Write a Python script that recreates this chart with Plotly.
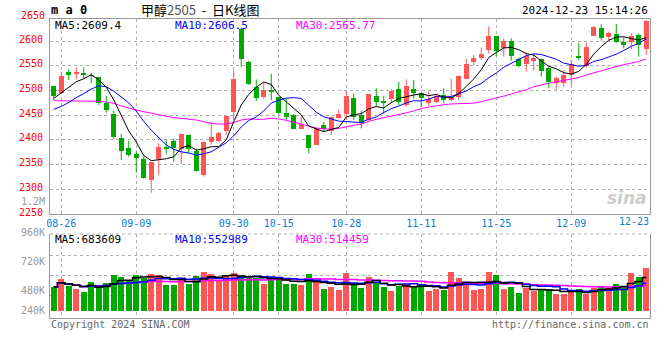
import plotly.graph_objects as go
import pandas as pd

# ---------------- data ----------------
dates = ["08-23",
         "08-26", "08-27", "08-28", "08-29", "08-30",
         "09-02", "09-03", "09-04", "09-05", "09-06",
         "09-09", "09-10", "09-11", "09-12", "09-13",
         "09-18", "09-19", "09-20",
         "09-23", "09-24", "09-25", "09-26", "09-27",
         "09-30",
         "10-08", "10-09", "10-10", "10-11",
         "10-14", "10-15", "10-16", "10-17", "10-18",
         "10-21", "10-22", "10-23", "10-24", "10-25",
         "10-28", "10-29", "10-30", "10-31", "11-01",
         "11-04", "11-05", "11-06", "11-07", "11-08",
         "11-11", "11-12", "11-13", "11-14", "11-15",
         "11-18", "11-19", "11-20", "11-21", "11-22",
         "11-25", "11-26", "11-27", "11-28", "11-29",
         "12-02", "12-03", "12-04", "12-05", "12-06",
         "12-09", "12-10", "12-11", "12-12", "12-13",
         "12-16", "12-17", "12-18", "12-19", "12-20",
         "12-23"]

opens = [2509.4, 2495.9, 2537.8, 2534.4, 2535.7, 2531.7, 2527.0, 2475.6, 2452.7, 2404.0,
         2383.7, 2371.6, 2362.1, 2318.9, 2360.8, 2385.0, 2398.6, 2381.0, 2409.4, 2378.3,
         2329.7, 2395.9, 2398.6, 2418.9, 2456.7, 2625.0, 2558.0, 2506.7, 2487.8, 2501.3,
         2486.5, 2455.4, 2450.0, 2423.0, 2410.1, 2390.5, 2430.4, 2418.9, 2444.6, 2452.7,
         2485.1, 2451.3, 2440.5, 2489.2, 2479.7, 2483.8, 2502.7, 2470.9, 2504.0, 2494.6,
         2474.3, 2477.7, 2491.2, 2481.0, 2487.8, 2523.0, 2557.4, 2566.9, 2582.4, 2610.8,
         2587.1, 2600.0, 2564.2, 2554.0, 2560.8, 2564.2, 2546.6, 2514.8, 2516.2, 2531.7,
         2570.9, 2550.7, 2611.4, 2627.7, 2609.4, 2614.8, 2599.3, 2599.3, 2612.8, 2584.4]
highs = [2509.4, 2537.8, 2543.2, 2547.2, 2547.0, 2536.4, 2528.3, 2489.1, 2459.4, 2412.1,
         2398.6, 2377.0, 2366.2, 2356.0, 2393.2, 2400.0, 2402.7, 2413.5, 2410.8, 2383.0,
         2397.3, 2437.8, 2416.2, 2448.6, 2540.5, 2628.3, 2560.8, 2523.0, 2516.2, 2533.8,
         2487.8, 2483.8, 2452.7, 2447.3, 2410.1, 2424.3, 2436.5, 2447.3, 2462.1, 2500.0,
         2493.2, 2459.4, 2493.2, 2504.7, 2489.2, 2502.7, 2518.2, 2523.0, 2521.6, 2495.9,
         2498.0, 2493.2, 2504.7, 2524.3, 2530.4, 2564.2, 2572.3, 2587.1, 2629.7, 2610.8,
         2606.0, 2606.0, 2566.9, 2577.7, 2573.6, 2565.5, 2548.6, 2528.3, 2541.9, 2562.1,
         2597.3, 2597.3, 2631.0, 2634.4, 2619.6, 2635.1, 2608.0, 2616.2, 2616.2, 2643.0]
lows = [2481.0, 2494.5, 2521.6, 2522.9, 2524.0, 2514.8, 2470.9, 2455.4, 2402.7, 2359.4,
        2366.2, 2333.7, 2321.6, 2293.2, 2329.0, 2371.6, 2356.0, 2351.3, 2372.9, 2336.4,
        2325.6, 2390.5, 2395.9, 2410.8, 2440.5, 2548.6, 2511.5, 2479.0, 2483.8, 2481.0,
        2450.7, 2440.5, 2421.6, 2423.0, 2373.0, 2390.5, 2416.2, 2410.1, 2443.2, 2440.5,
        2440.5, 2423.6, 2439.2, 2467.5, 2452.7, 2474.3, 2470.9, 2467.5, 2483.8, 2466.2,
        2468.9, 2474.3, 2474.3, 2479.0, 2481.0, 2523.0, 2552.0, 2562.1, 2575.6, 2570.2,
        2568.9, 2560.8, 2547.3, 2538.5, 2540.5, 2528.3, 2504.7, 2501.3, 2508.0, 2509.4,
        2562.1, 2547.3, 2611.4, 2601.3, 2602.7, 2597.3, 2585.8, 2583.7, 2568.9, 2572.3]
closes = [2489.1, 2529.7, 2532.4, 2535.7, 2533.7, 2529.7, 2475.6, 2460.8, 2406.7, 2378.3,
          2370.2, 2363.5, 2322.9, 2356.0, 2385.0, 2382.4, 2383.7, 2412.1, 2381.0, 2337.8,
          2395.9, 2405.3, 2413.5, 2448.6, 2522.9, 2564.2, 2513.5, 2485.8, 2501.3, 2497.3,
          2455.4, 2445.9, 2423.0, 2432.4, 2384.4, 2423.0, 2421.6, 2445.9, 2452.7, 2489.2,
          2445.9, 2433.8, 2493.2, 2477.0, 2474.3, 2500.0, 2477.0, 2509.4, 2495.9, 2485.1,
          2482.4, 2489.2, 2481.0, 2487.8, 2530.4, 2554.0, 2565.5, 2574.3, 2610.8, 2581.0,
          2601.3, 2570.9, 2550.7, 2570.9, 2566.9, 2540.5, 2518.2, 2525.0, 2531.7, 2553.3,
          2566.9, 2589.2, 2629.7, 2607.4, 2617.5, 2599.3, 2592.5, 2611.4, 2592.5, 2641.0]
volumes_k = [523, 688, 537, 473, 409, 623, 523, 609, 774, 738,
             667, 774, 710, 796, 774, 552, 552, 710, 580, 760,
             839, 796, 645, 753, 817, 753, 710, 710, 580, 731,
             731, 580, 580, 559, 796, 645, 473, 516, 452, 817,
             602, 502, 731, 624, 516, 430, 538, 581, 538, 581,
             430, 473, 452, 839, 710, 624, 452, 473, 839, 774,
             473, 516, 387, 495, 430, 473, 473, 366, 366, 409,
             473, 366, 495, 538, 495, 581, 538, 817, 731, 925]

# moving-average values visible before enough bars exist in the window
ma5_head = [2484.4, 2496.0, 2508.0, 2518.0]
ma10_head = [2462.0, 2468.0, 2476.0, 2486.0, 2494.0, 2503.0, 2510.0, 2508.0, 2499.0]
ma30_head = [2479.7, 2479.7, 2479.0, 2479.0, 2479.7, 2479.7, 2478.3, 2477.0, 2474.3, 2468.9,
             2464.1, 2460.8, 2457.4, 2454.0, 2452.0, 2448.6, 2445.2, 2443.9, 2442.5, 2440.5,
             2437.1, 2433.7, 2432.4, 2432.4, 2435.1, 2440.5, 2442.5, 2441.9, 2441.9]

tick_dates = ["08-26", "09-09", "09-30", "10-15", "10-28", "11-11", "11-25", "12-09"]
price_ticks = [2250, 2300, 2350, 2400, 2450, 2500, 2550, 2600]

# ---------------- derived series ----------------
cl = pd.Series(closes)
def ma(series, n, head):
    m = series.rolling(n).mean().tolist()
    for i, v in enumerate(head):
        m[i] = v
    return m

ma5 = ma(cl, 5, ma5_head)
ma10 = ma(cl, 10, ma10_head)
ma30 = ma(cl, 30, ma30_head)

vol = pd.Series([v * 1000 for v in volumes_k])
vma5 = vol.rolling(5, min_periods=1).mean().tolist()
vma10 = vol.rolling(10, min_periods=1).mean().tolist()
vma30 = vol.rolling(30, min_periods=1).mean().tolist()

RED = "#ff5555"
GREEN = "#00a800"
MONO = "DejaVu Sans Mono"

up = [c >= o for o, c in zip(opens, closes)]
body_base = [min(o, c) for o, c in zip(opens, closes)]
body_h = [max(abs(c - o), 1.6) for o, c in zip(opens, closes)]

fig = go.Figure()

# bodies (added first so category order follows the dates)
fig.add_trace(go.Bar(x=dates, y=body_h, base=body_base, width=0.72,
                     marker=dict(color=[RED if u else GREEN for u in up], line=dict(width=0)),
                     showlegend=False, xaxis="x", yaxis="y"))

# wicks
for flag, col in ((True, RED), (False, GREEN)):
    wx, wy = [], []
    for d, h, l, u in zip(dates, highs, lows, up):
        if u == flag:
            wx += [d, d, None]
            wy += [l, h, None]
    fig.add_trace(go.Scatter(x=wx, y=wy, mode="lines", line=dict(color=col, width=1),
                             hoverinfo="skip", showlegend=False, xaxis="x", yaxis="y"))

for m, col in ((ma30, "#ff00ff"), (ma10, "#0000ff"), (ma5, "#000000")):
    fig.add_trace(go.Scatter(x=dates, y=m, mode="lines", line=dict(color=col, width=1),
                             showlegend=False, xaxis="x", yaxis="y"))

# volume
fig.add_trace(go.Bar(x=dates, y=vol.tolist(), width=0.8,
                     marker=dict(color=[RED if u else GREEN for u in up], line=dict(width=0)),
                     showlegend=False, xaxis="x2", yaxis="y2"))
for m, col in ((vma30, "#ff00ff"), (vma10, "#0000ff"), (vma5, "#000000")):
    fig.add_trace(go.Scatter(x=dates, y=m, mode="lines", line=dict(color=col, width=1.5, shape="hvh"),
                             showlegend=False, xaxis="x2", yaxis="y2"))

# ---------------- layout ----------------
L, R, T, B = 50, 650, 19, 318
def px(x, y):
    return (x - L) / (R - L), (B - y) / (B - T)

price_dom = [px(0, 214)[1], 1]
vol_dom = [0, px(0, 234)[1]]
S = 21500.0  # volume units per pixel
vol_range = [-(318 - 311) * S, (311 - 234) * S]

GRID = "#b0b0b0"
AX = "#999999"
xcommon = dict(type="category", categoryorder="array", categoryarray=dates,
               range=[-0.5, len(dates) - 0.5], tickvals=tick_dates,
               showgrid=True, gridcolor=GRID, griddash="dot", gridwidth=1,
               zeroline=False, ticks="", fixedrange=True, linecolor=AX, showline=True)

fig.update_layout(
    width=660, height=360, margin=dict(l=L, r=660 - R, t=T, b=360 - B),
    paper_bgcolor="white", plot_bgcolor="white", bargap=0, showlegend=False,
    xaxis=dict(**xcommon, anchor="y", mirror=True,
               tickfont=dict(family=MONO, size=10, color="#0b7bd1"), ticktext=tick_dates),
    xaxis2=dict(**xcommon, anchor="y2", matches="x", showticklabels=False),
    yaxis=dict(domain=price_dom, range=[2250, 2250 + (214 - 19) * 2.0268],
               tickvals=price_ticks, ticktext=[str(v) for v in price_ticks],
               showgrid=True, gridcolor=GRID, griddash="dot", zeroline=False,
               showline=True, mirror=True, linecolor=AX, ticks="", ticklabelstandoff=4,
               ticklabelshift=-2,
               tickfont=dict(family=MONO, size=10, color="#ff0000")),
    yaxis2=dict(domain=vol_dom, range=vol_range,
                tickvals=[(311 - 295) * S, (311 - 275) * S, (311 - 255) * S],
                showticklabels=False, showgrid=True, gridcolor=GRID, griddash="dot",
                zeroline=False, showline=True, mirror=True, linecolor=AX, ticks=""),
)

# top dotted border of volume panel
fig.add_shape(type="line", xref="paper", yref="paper", x0=0, x1=1, y0=vol_dom[1], y1=vol_dom[1],
              line=dict(color=GRID, width=1, dash="dot"))

anns = []
def ann(text, x, y, anchor="left", color="#000", size=11, family=MONO, **kw):
    xp, yp = px(x, y)
    anns.append(dict(text=text, xref="paper", yref="paper", x=xp, y=yp, xanchor=anchor,
                     yanchor="middle", showarrow=False, borderpad=0,
                     font=dict(family=family, size=size, color=color), **kw))

ann("<b>m a 0</b>", 50, 10.5, size=12)
ann("2650", 46, 15, "right", "#ff0000", 10)
ann("甲醇<span style='color:#555555'>2505</span>&nbsp;&nbsp;-&nbsp;&nbsp;日K线图", 140, 9.5, size=13,
    family="Noto Sans CJK SC")
ann("2024-12-23 15:14:26", 649, 10.5, "right", "#000", 11)
ann("MA5:2609.4", 54, 25.5, color="#000", size=11)
ann("MA10:2606.5", 174, 25.5, color="#0000ff", size=11)
ann("MA30:2565.77", 295, 25.5, color="#ff00ff", size=11)
ann("1.2M", 46, 201, "right", "#999999", 10)
ann("960K", 46, 232, "right", "#999999", 10)
ann("720K", 46, 261, "right", "#999999", 10)
ann("480K", 46, 290, "right", "#999999", 10)
ann("240K", 46, 310, "right", "#999999", 10)
ann("MA5:683609", 54, 239.5, color="#000", size=11)
ann("MA10:552989", 174, 239.5, color="#0000ff", size=11)
ann("MA30:514459", 295, 239.5, color="#ff00ff", size=11)
ann("12-23", 650, 221, "right", "#0b7bd1", 10)
ann("Copyright 2024 SINA.COM", 50, 324, "left", "#666666", 10)
ann("http://finance.sina.com.cn", 650, 324, "right", "#666666", 10)
ann("<b><i>sina</i></b>", 648, 198, "right", "#cccccc", 17, family="DejaVu Sans")
fig.update_layout(annotations=anns)

fig.write_html("out.html")
